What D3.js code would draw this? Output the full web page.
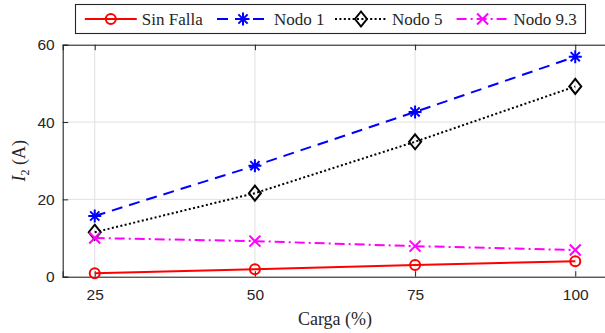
<!DOCTYPE html>
<html>
<head>
<meta charset="utf-8">
<script src="https://cdn.jsdelivr.net/npm/d3@7"></script>
<style>
  body { margin: 0; background: #fff; }
  svg { display: block; }
</style>
</head>
<body>
<script>
// data
const cargas = [25, 50, 75, 100];
const sinFalla = [0.9, 1.9, 3.0, 4.0];
const nodo1 = [15.7, 28.7, 42.6, 56.9];
const nodo5 = [11.5, 21.6, 34.9, 49.2];
const nodo93 = [10.0, 9.2, 7.9, 6.9];
const seriesNames = ['Sin Falla', 'Nodo 1', 'Nodo 5', 'Nodo 9.3'];
const xTicks = [25, 50, 75, 100];
const yTicks = [0, 20, 40, 60];

const width = 605, height = 333;
const margin = {left: 62.7, top: 44.7, bottom: 56.3};
const axisColor = '#262626';

const svg = d3.select('body').append('svg')
    .attr('width', width)
    .attr('height', height);

const x = d3.scaleLinear().domain([20, 105]).range([margin.left, margin.left + 544.6]);
const y = d3.scaleLinear().domain([0, 60]).range([height - margin.bottom, margin.top]);

// grid
const g = svg.append('g');
g.selectAll('.gx').data(xTicks).enter().append('line')
    .attr('x1', d => x(d)).attr('x2', d => x(d))
    .attr('y1', y(0)).attr('y2', y(60))
    .attr('stroke', '#e0e0e0').attr('stroke-width', 1);
g.selectAll('.gy').data(yTicks).enter().append('line')
    .attr('x1', x(20)).attr('x2', x(105))
    .attr('y1', d => y(d)).attr('y2', d => y(d))
    .attr('stroke', '#e0e0e0').attr('stroke-width', 1);

// axes (ticks inside)
const xAxis = svg.append('g').attr('transform', `translate(0,${y(0)})`)
    .call(d3.axisBottom(x).tickValues(xTicks).tickSize(-5.5).tickPadding(12));
const xTop = svg.append('g').attr('transform', `translate(0,${y(60)})`)
    .call(d3.axisTop(x).tickValues(xTicks).tickSize(-5.5).tickFormat(''));
const yAxis = svg.append('g').attr('transform', `translate(${x(20)},0)`)
    .call(d3.axisLeft(y).tickValues(yTicks).tickSize(-5.5).tickPadding(8));
[xAxis, xTop, yAxis].forEach(a => {
  a.select('.domain').attr('stroke', axisColor).attr('stroke-width', 1.1);
  a.selectAll('.tick line').attr('stroke', axisColor);
  a.selectAll('.tick text')
    .attr('fill', axisColor)
    .style('font-family', '"Liberation Sans", Arial, sans-serif')
    .style('font-size', '15.5px');
});

// axis labels
svg.append('text')
    .attr('x', 335).attr('y', 325)
    .attr('text-anchor', 'middle')
    .style('font-family', '"Liberation Serif", "DejaVu Serif", serif')
    .style('font-size', '18px')
    .attr('fill', axisColor)
    .text('Carga (%)');

const yl = svg.append('text')
    .attr('transform', `translate(25,${y(30)}) rotate(-90)`)
    .attr('text-anchor', 'middle')
    .style('font-family', '"Liberation Serif", "DejaVu Serif", serif')
    .style('font-size', '18px')
    .attr('fill', axisColor);
yl.append('tspan').style('font-style', 'italic').text('I');
yl.append('tspan').attr('dy', 4).style('font-size', '12px').text('2');
yl.append('tspan').attr('dy', -4).text(' (A)');

// marker shapes
function marker(sel, type, color) {
  if (type === 'o') {
    sel.append('circle').attr('r', 5).attr('fill', 'none')
      .attr('stroke', color).attr('stroke-width', 2);
  } else if (type === '*') {
    const s = 6.5, d = 4.6;
    sel.append('path')
      .attr('d', `M${-s},0L${s},0M0,${-s}L0,${s}M${-d},${-d}L${d},${d}M${-d},${d}L${d},${-d}`)
      .attr('stroke', color).attr('stroke-width', 2).attr('fill', 'none');
  } else if (type === 'd') {
    sel.append('path')
      .attr('d', 'M0,-7.5L6,0L0,7.5L-6,0Z')
      .attr('stroke', color).attr('stroke-width', 2).attr('fill', 'none');
  } else if (type === 'x') {
    const s = 5.5;
    sel.append('path')
      .attr('d', `M${-s},${-s}L${s},${s}M${-s},${s}L${s},${-s}`)
      .attr('stroke', color).attr('stroke-width', 2).attr('fill', 'none');
  }
}

const series = [
  {name: seriesNames[0], values: sinFalla, color: '#ff0000', dash: null, mark: 'o'},
  {name: seriesNames[1], values: nodo1, color: '#0000ff', dash: '11,7', mark: '*'},
  {name: seriesNames[2], values: nodo5, color: '#000000', dash: '2,2.4', mark: 'd'},
  {name: seriesNames[3], values: nodo93, color: '#ff00ff', dash: '10,4,2,4', mark: 'x'}
];

const line = d3.line().x(d => x(d[0])).y(d => y(d[1]));
series.forEach(s => {
  const pts = cargas.map((c, i) => [c, s.values[i]]);
  svg.append('path')
    .datum(pts)
    .attr('d', line)
    .attr('fill', 'none')
    .attr('stroke', s.color)
    .attr('stroke-width', 2)
    .attr('stroke-dasharray', s.dash);
  pts.forEach(p => {
    const m = svg.append('g').attr('transform', `translate(${x(p[0])},${y(p[1])})`);
    marker(m, s.mark, s.color);
  });
});

// legend
const legX = [84.8, 217, 335, 456.6];
const lg = svg.append('g');
lg.append('rect')
    .attr('x', 75.5).attr('y', 4.5).attr('width', 510).attr('height', 29)
    .attr('fill', '#fff').attr('stroke', axisColor).attr('stroke-width', 1.1);
series.forEach((s, i) => {
  const x0 = legX[i], yy = 19;
  lg.append('line')
    .attr('x1', x0).attr('x2', x0 + 52).attr('y1', yy).attr('y2', yy)
    .attr('stroke', s.color).attr('stroke-width', 2)
    .attr('stroke-dasharray', s.dash);
  marker(lg.append('g').attr('transform', `translate(${x0 + 26},${yy})`), s.mark, s.color);
  lg.append('text')
    .attr('x', x0 + 57).attr('y', yy + 5.5)
    .style('font-family', '"Liberation Serif", "DejaVu Serif", serif')
    .style('font-size', '17px')
    .attr('fill', axisColor)
    .text(s.name);
});
</script>
</body>
</html>
